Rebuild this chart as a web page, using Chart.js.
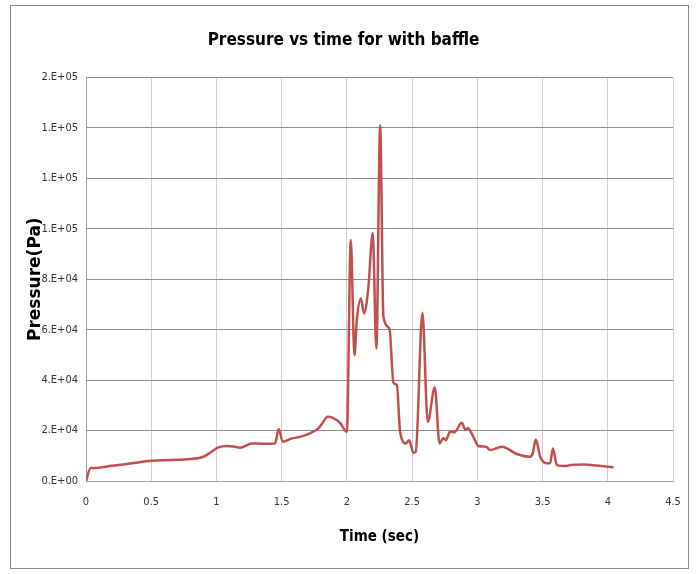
<!DOCTYPE html>
<html>
<head>
<meta charset="utf-8">
<script src="https://cdn.jsdelivr.net/npm/chart.js@4.4.1/dist/chart.umd.min.js"></script>
<style>
  html, body { margin: 0; padding: 0; background: #fff; }
  #wrap { position: relative; width: 699px; height: 574px; }
  #frame { position: absolute; left: 10px; top: 5px; width: 677px; height: 562px; border: 1.5px solid #8a8a8a; }
  #chart { position: absolute; left: 0; top: 0; }
</style>
</head>
<body>
<div id="wrap">
  <div id="frame"></div>
  <canvas id="chart" width="699" height="574"></canvas>
</div>
<script>
// time (s) and pressure (Pa)
const timeSec = [
  0, 0.036, 0.056, 0.2, 0.35, 0.504, 0.65, 0.798, 0.9, 0.96,
  1.015, 1.079, 1.13, 1.181, 1.271, 1.35, 1.449, 1.477, 1.508, 1.58,
  1.641, 1.72, 1.782, 1.82, 1.851, 1.88, 1.948, 2.0, 2.03, 2.058,
  2.076, 2.107, 2.132, 2.165, 2.198, 2.226, 2.255, 2.28, 2.326, 2.357,
  2.383, 2.408, 2.454, 2.477, 2.51, 2.528, 2.579, 2.62, 2.674, 2.71,
  2.74, 2.758, 2.791, 2.825, 2.881, 2.906, 2.927, 2.97, 3.008, 3.067,
  3.098, 3.188, 3.303, 3.405, 3.425, 3.448, 3.482, 3.533, 3.558, 3.579,
  3.61, 3.673, 3.712, 3.814, 3.916, 4.044
];
const pressurePa = [
  0, 5200, 5100, 6000, 7000, 8000, 8300, 8700, 9600, 11500,
  13300, 13900, 13700, 13200, 14900, 14800, 14900, 20600, 15600, 16900,
  17500, 19000, 20900, 23500, 25500, 25300, 23000, 19500, 95500, 49900,
  63800, 72300, 66400, 77000, 98300, 52500, 141000, 65100, 60500, 38900,
  38000, 19500, 14900, 16200, 11200, 11600, 66700, 23500, 37100, 14900,
  16900, 16200, 19500, 19300, 23100, 20500, 20900, 17500, 13900, 13600,
  12300, 13600, 10700, 9600, 11000, 16500, 9600, 7000, 7000, 12900,
  6300, 5900, 6300, 6500, 6100, 5400
];
const yTickLabels = ['0.E+00', '2.E+04', '4.E+04', '6.E+04', '8.E+04', '1.E+05', '1.E+05', '1.E+05', '2.E+05'];
const xTickLabels = ['0', '0.5', '1', '1.5', '2', '2.5', '3', '3.5', '4', '4.5'];

const narrow = "'Liberation Sans Narrow', 'DejaVu Sans Condensed', sans-serif";

const points = timeSec.map((t, i) => ({ x: t, y: pressurePa[i] }));

new Chart(document.getElementById('chart').getContext('2d'), {
  type: 'line',
  data: {
    datasets: [{
      data: points,
      borderColor: '#c0504d',
      borderWidth: 2.5,
      pointRadius: 0,
      cubicInterpolationMode: 'monotone',
      fill: false,
    }],
  },
  options: {
    responsive: false,
    animation: false,
    layout: { padding: { top: 12, left: 14, right: 26, bottom: 10 } },
    plugins: {
      legend: { display: false },
      tooltip: { enabled: false },
      title: {
        display: true,
        text: 'Pressure vs time for with baffle',
        color: '#000',
        font: { family: narrow, size: 17, weight: 'bold' },
        padding: { top: 18, bottom: 27 },
      },
    },
    scales: {
      x: {
        type: 'linear',
        min: 0,
        max: 4.5,
        afterFit: (s) => { s.height = 83; },
        ticks: {
          stepSize: 0.5,
          padding: 15,
          color: '#333',
          font: { family: narrow, size: 11 },
          callback: (v, i) => xTickLabels[i],
        },
        grid: { color: '#d0d0d0', lineWidth: 1, drawTicks: false },
        border: { color: '#a0a0a0' },
        title: {
          display: true,
          text: 'Time (sec)',
          color: '#000',
          font: { family: narrow, size: 15, weight: 'bold' },
          padding: { top: 0, bottom: 18 },
        },
      },
      y: {
        min: 0,
        max: 160000,
        afterFit: (s) => { s.width = 72; },
        ticks: {
          stepSize: 20000,
          padding: 8,
          color: '#333',
          font: { family: narrow, size: 11 },
          callback: (v, i) => yTickLabels[i],
        },
        grid: { color: '#8c8c8c', lineWidth: 1, drawTicks: false },
        border: { color: '#a0a0a0' },
        title: {
          display: true,
          text: 'Pressure(Pa)',
          color: '#000',
          font: { family: "'DejaVu Sans', sans-serif", size: 17, weight: 'bold' },
          padding: { top: 11, bottom: 0 },
        },
      },
    },
  },
});
</script>
</body>
</html>
